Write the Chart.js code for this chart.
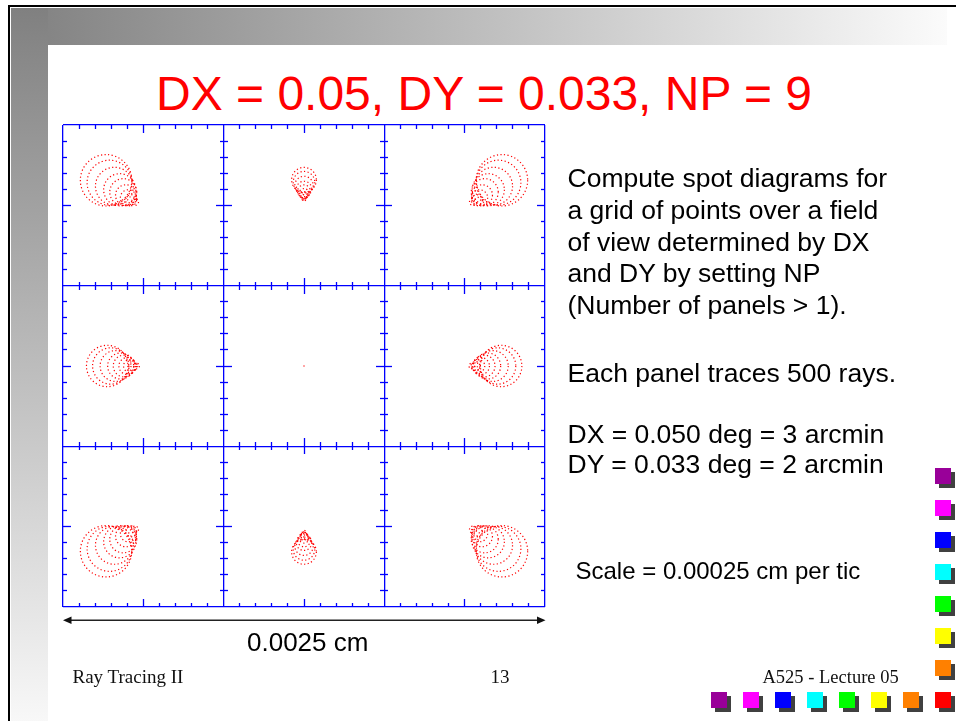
<!DOCTYPE html>
<html>
<head>
<meta charset="utf-8">
<title>DX = 0.05, DY = 0.033, NP = 9</title>
<script src="https://cdn.jsdelivr.net/npm/chart.js@4"></script>
<style>
  html, body { margin: 0; padding: 0; }
  body {
    width: 956px; height: 721px; position: relative; overflow: hidden;
    background: #fff; font-family: "Liberation Sans", Arial, sans-serif;
  }
  .abs { position: absolute; white-space: nowrap; }
  #frame { left: 8px; top: 5px; width: 960px; height: 730px; border-left: 2.5px solid #000; border-top: 2.5px solid #000; }
  #bandTop { left: 10.5px; top: 7.5px; width: 936px; height: 37px; background: linear-gradient(to right, #808080, #fbfbfb); }
  #bandLeft { left: 10.5px; top: 7.5px; width: 37px; height: 714px; background: linear-gradient(to bottom, #808080, #f8f8f8); }
  #title { left: 156px; top: 69.8px; font-size: 48px; line-height: 1; color: #ff0000; }
  .note { left: 567.5px; font-size: 26.5px; color: #000; }
  #note1 { top: 163.3px; line-height: 31.7px; }
  #note2 { top: 358.3px; line-height: 31.7px; }
  #note3 { top: 418.5px; line-height: 30px; }
  #scaleNote { left: 575.5px; top: 558.7px; font-size: 24px; line-height: 1; }
  #widthNote { left: 247px; top: 628.7px; font-size: 26px; line-height: 1; }
  .foot { font-family: "Liberation Serif", "Times New Roman", serif; font-size: 19px; line-height: 1; top: 667.4px; color: #111; }
  #chartBox { left: 53px; top: 115px; width: 502px; height: 502px; }
  .sq { position: absolute; width: 16px; height: 16px; box-shadow: 4px 4px 0 #404040; }
</style>
</head>
<body>
<div id="frame" class="abs"></div>
<div id="bandTop" class="abs"></div>
<div id="bandLeft" class="abs"></div>

<div id="title" class="abs">DX = 0.05, DY = 0.033, NP = 9</div>

<div id="chartBox" class="abs"><canvas id="chart-spots" width="502" height="502"></canvas></div>

<svg class="abs" style="left:0;top:0" width="956" height="721">
  <line x1="68" y1="620.3" x2="540" y2="620.3" stroke="#222" stroke-width="1.5"/>
  <polygon points="63,620.3 71.5,616.5 71.5,624.1" fill="#111"/>
  <polygon points="545.5,620.3 537,616.5 537,624.1" fill="#111"/>
</svg>

<div id="note1" class="abs note">Compute spot diagrams for<br>a grid of points over a field<br>of view determined by DX<br>and DY by setting NP<br>(Number of panels &gt; 1).</div>
<div id="note2" class="abs note">Each panel traces 500 rays.</div>
<div id="note3" class="abs note">DX = 0.050 deg = 3 arcmin<br>DY = 0.033 deg = 2 arcmin</div>
<div id="scaleNote" class="abs">Scale = 0.00025 cm per tic</div>
<div id="widthNote" class="abs">0.0025 cm</div>

<div class="abs foot" style="left:72.5px">Ray Tracing II</div>
<div class="abs foot" style="left:490.5px">13</div>
<div class="abs foot" style="left:762.5px;font-size:18.5px;top:667.8px">A525 - Lecture 05</div>

<div id="squares"></div>

<script>
// Spot diagram grid, in tic units (10 tics per panel, 3 x 3 panels)
const AXIS_MIN = 0;
const AXIS_MAX = 30;
const TIC_STEP = 1;

// Coma rings of each panel: ring centre x, centre y, ring radius (tic units)
const TL_X = [2.68, 2.90, 3.20, 3.53, 3.75, 3.92, 4.07, 4.24, 4.48];
const TL_Y = [26.56, 26.41, 26.19, 25.97, 25.82, 25.63, 25.47, 25.32, 25.21];
const TL_R = [1.60, 1.40, 1.18, 1.00, 0.84, 0.65, 0.50, 0.34, 0.22];

const TM_X = [15.0, 15.0, 15.0, 15.0, 15.0, 15.0, 15.0, 15.0, 15.0];
const TM_Y = [26.59, 26.44, 26.24, 26.02, 25.87, 25.73, 25.62, 25.50, 25.35];
const TM_R = [0.77, 0.67, 0.57, 0.48, 0.40, 0.31, 0.24, 0.16, 0.10];

const TR_X = [27.32, 27.10, 26.80, 26.47, 26.25, 26.08, 25.93, 25.76, 25.52];
const TR_Y = [26.56, 26.41, 26.19, 25.97, 25.82, 25.63, 25.47, 25.32, 25.21];
const TR_R = [1.60, 1.40, 1.18, 1.00, 0.84, 0.65, 0.50, 0.34, 0.22];

const ML_X = [2.75, 2.97, 3.27, 3.59, 3.81, 4.01, 4.17, 4.34, 4.57];
const ML_Y = [15.0, 15.0, 15.0, 15.0, 15.0, 15.0, 15.0, 15.0, 15.0];
const ML_R = [1.29, 1.13, 0.96, 0.81, 0.68, 0.53, 0.40, 0.28, 0.18];

const MC_X = [15.0];
const MC_Y = [15.0];
const MC_R = [0.04];

const MR_X = [27.27, 27.05, 26.75, 26.43, 26.21, 26.01, 25.85, 25.68, 25.45];
const MR_Y = [15.0, 15.0, 15.0, 15.0, 15.0, 15.0, 15.0, 15.0, 15.0];
const MR_R = [1.29, 1.13, 0.96, 0.81, 0.68, 0.53, 0.40, 0.28, 0.18];

const BL_X = [2.68, 2.90, 3.20, 3.53, 3.75, 3.92, 4.07, 4.24, 4.48];
const BL_Y = [3.47, 3.62, 3.84, 4.06, 4.21, 4.40, 4.56, 4.71, 4.82];
const BL_R = [1.60, 1.40, 1.18, 1.00, 0.84, 0.65, 0.50, 0.34, 0.22];

const BM_X = [15.0, 15.0, 15.0, 15.0, 15.0, 15.0, 15.0, 15.0, 15.0];
const BM_Y = [3.43, 3.58, 3.78, 4.00, 4.15, 4.29, 4.40, 4.52, 4.67];
const BM_R = [0.77, 0.67, 0.57, 0.48, 0.40, 0.31, 0.24, 0.16, 0.10];

const BR_X = [27.32, 27.10, 26.80, 26.47, 26.25, 26.08, 25.93, 25.76, 25.52];
const BR_Y = [3.47, 3.62, 3.84, 4.06, 4.21, 4.40, 4.56, 4.71, 4.82];
const BR_R = [1.60, 1.40, 1.18, 1.00, 0.84, 0.65, 0.50, 0.34, 0.22];

// Slide bullet squares (PowerPoint template decoration)
const SQUARE_COLORS = ['#990099', '#ff00ff', '#0000ff', '#00ffff', '#00ff00', '#ffff00', '#ff8000', '#ff0000'];

const BLUE = '#0000ff';
const RED = '#ff0000';
const TICK_SHORT = 4;
const TICK_LONG = 8;

// Panel border lines: value along the other axis and tick directions (inward)
const COL_BORDERS = [[0, [-1]], [10, [1, -1]], [20, [1, -1]], [30, [1]]];
const ROW_BORDERS = [[0, [-1]], [10, [1, -1]], [20, [1, -1]], [30, [1]]];

function ringPoints(xs, ys, rs) {
  return xs.map((x, i) => ({ x, y: ys[i], size: rs[i] }));
}

// ring radius from tic units to pixels through the x scale
function ringRadius(ctx) {
  const s = ctx.chart.scales.x;
  const px = Math.abs(s.getPixelForValue(1) - s.getPixelForValue(0));
  return ctx.raw && isFinite(px) ? ctx.raw.size * px : 0;
}

function panelDataset(xs, ys, rs, fill) {
  return {
    data: ringPoints(xs, ys, rs),
    showLine: false,
    pointBorderColor: RED,
    pointBackgroundColor: fill ? RED : 'rgba(0,0,0,0)',
    pointBorderWidth: fill ? 0 : 1.2,
    pointRadius: ringRadius,
    pointHoverRadius: ringRadius,
  };
}

// Make the ring outlines dotted like the plotted rays
const dottedRings = {
  id: 'dottedRings',
  beforeDatasetsDraw(chart) { chart.ctx.setLineDash([1.2, 2.4]); },
  afterDatasetsDraw(chart) { chart.ctx.setLineDash([]); },
};

function isMajor(v) { return Math.round(v) % 10 === 0; }
function isMid(v) { return Math.round(v) % 5 === 0 && !isMajor(v); }

function buildScales() {
  const mainGrid = {
    color: c => (isMajor(c.tick.value) ? BLUE : 'rgba(0,0,0,0)'),
    lineWidth: 1.3,
    drawTicks: false,
  };
  const scales = {
    x: { type: 'linear', min: AXIS_MIN, max: AXIS_MAX, ticks: { display: false, stepSize: TIC_STEP }, grid: mainGrid, border: { display: false } },
    y: { type: 'linear', min: AXIS_MIN, max: AXIS_MAX, ticks: { display: false, stepSize: TIC_STEP }, grid: mainGrid, border: { display: false } },
  };
  // tick marks along every panel border, drawn by axes placed on the borders
  const addTicks = (axis, other, borders) => {
    borders.forEach(([at, dirs]) => {
      dirs.forEach(dir => {
        [['s', TICK_SHORT], ['l', TICK_LONG]].forEach(([kind, len]) => {
          scales[axis + kind + at + (dir > 0 ? 'p' : 'n')] = {
            type: 'linear', axis, display: true,
            min: AXIS_MIN, max: AXIS_MAX,
            position: { [other]: at },
            ticks: { display: false, stepSize: TIC_STEP },
            border: { display: false },
            grid: {
              drawOnChartArea: false, drawTicks: true,
              tickLength: dir * len, tickWidth: 1.3,
              tickColor: kind === 's'
                ? c => (Math.round(c.tick.value) % 5 === 0 ? 'rgba(0,0,0,0)' : BLUE)
                : c => (isMid(c.tick.value) ? BLUE : 'rgba(0,0,0,0)'),
            },
          };
        });
      });
    });
  };
  addTicks('x', 'y', ROW_BORDERS);
  addTicks('y', 'x', COL_BORDERS);
  return scales;
}

function buildSpotChart() {
  const ctx = document.getElementById('chart-spots').getContext('2d');
  new Chart(ctx, {
    type: 'scatter',
    data: {
      datasets: [
        panelDataset(TL_X, TL_Y, TL_R), panelDataset(TM_X, TM_Y, TM_R), panelDataset(TR_X, TR_Y, TR_R),
        panelDataset(ML_X, ML_Y, ML_R), panelDataset(MC_X, MC_Y, MC_R, true), panelDataset(MR_X, MR_Y, MR_R),
        panelDataset(BL_X, BL_Y, BL_R), panelDataset(BM_X, BM_Y, BM_R), panelDataset(BR_X, BR_Y, BR_R),
      ],
    },
    options: {
      responsive: false,
      animation: false,
      events: [],
      layout: { padding: 10 },
      plugins: { legend: { display: false }, tooltip: { enabled: false } },
      scales: buildScales(),
    },
    plugins: [dottedRings],
  });
}

function buildSquares() {
  const box = document.getElementById('squares');
  const put = (left, top, color) => {
    const d = document.createElement('div');
    d.className = 'sq';
    d.style.left = left + 'px';
    d.style.top = top + 'px';
    d.style.background = color;
    box.appendChild(d);
  };
  // right column, top to bottom (the red one sits in the corner)
  SQUARE_COLORS.slice(0, 7).forEach((c, i) => put(935, 468 + i * 32, c));
  SQUARE_COLORS.forEach((c, i) => put(711 + i * 32, 692, c));
}

buildSquares();
buildSpotChart();
</script>
</body>
</html>
